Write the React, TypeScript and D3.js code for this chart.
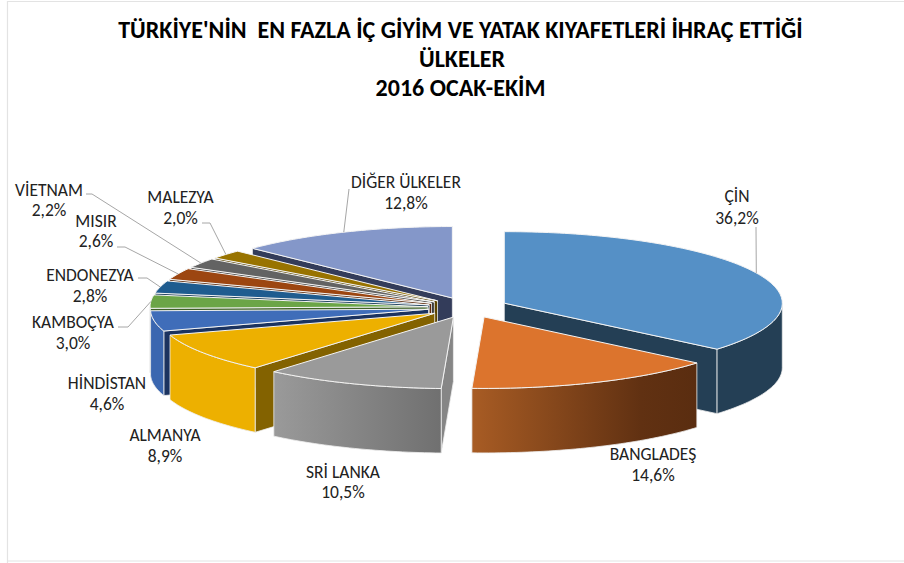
import React from "react";
import * as d3 from "d3";

const categories = ["ÇİN", "BANGLADEŞ", "SRİ LANKA", "ALMANYA", "HİNDİSTAN", "KAMBOÇYA", "ENDONEZYA", "MISIR", "VİETNAM", "MALEZYA", "DİĞER ÜLKELER"];
const shares = [36.2, 14.6, 10.5, 8.9, 4.6, 3.0, 2.8, 2.6, 2.2, 2.0, 12.8];
const titleLines = ["TÜRKİYE'NİN  EN FAZLA İÇ GİYİM VE YATAK KIYAFETLERİ İHRAÇ ETTİĞİ", "ÜLKELER", "2016 OCAK-EKİM"];

const topColors = ["#5590C6", "#DC742D", "#9A9A9A", "#EDB000", "#3F6DB9", "#6BA547", "#1F5C8F", "#9C4611", "#636363", "#987300", "#8497C9"];
const faceColors = ["#243F55", "#5C2E10", "#868686", "#836200", "#1B3360", "#3F6228", "#123654", "#5E2A0A", "#3C3C3C", "#5C4500", "#333C5A"];
const wallColors = ["#243F55", "url(#wallB)", "url(#wallS)", "#EDB000", "#3B67B0", "#5A8F3A", "#1F5C8F", "#9C4611", "#636363", "#987300", "#8497C9"];

// label layout: text centre x, first line y, second line y; optional leader elbow
const labelLayout: [number, number, number, number[] | null][] = [
  [737, 196, 218, [756, 227]],
  [653, 454, 475, null],
  [343, 472, 492, null],
  [165, 435, 456, null],
  [107, 383, 404, null],
  [73, 322, 343, [118, 327, 128, 327]],
  [90, 275, 296, [138, 278, 147, 278]],
  [96, 221, 241, [117, 247, 125, 247]],
  [49, 190, 210, [86, 194, 92, 194]],
  [180.5, 197, 218, [202, 223, 210, 223]],
  [406, 182, 203, [349, 189]],
];

const CX = 468, CY = 307.5, RX = 278, RY = 71.5, DEPTH = 64.5, EXPLODE = 0.144;
const FONT = "Carlito, Lato, sans-serif";

const pie = d3.pie<number>().sort(null).startAngle(0).endAngle(2 * Math.PI);
const arcs = pie(shares);

const line = d3.line<[number, number]>();
const rim = (ax: number, ay: number, t: number): [number, number] => [ax + RX * Math.sin(t), ay - RY * Math.cos(t)];
const sweep = (ax: number, ay: number, a: number, b: number, dy = 0): [number, number][] => {
  const n = Math.max(2, Math.ceil((b - a) / 0.02));
  return d3.range(n + 1).map(i => {
    const p = rim(ax, ay, a + ((b - a) * i) / n);
    return [p[0], p[1] + dy] as [number, number];
  });
};

const slices = arcs.map((arc, i) => {
  const mid = (arc.startAngle + arc.endAngle) / 2;
  const ax = CX + EXPLODE * RX * Math.sin(mid);
  const ay = CY - EXPLODE * RY * Math.cos(mid);
  return { i, a: arc.startAngle, b: arc.endAngle, mid, ax, ay };
});

// painter's order: back slices first
const order = [10, 9, 8, 7, 6, 5, 4, 3, 2, 0, 1];

export default function App() {
  return (
    <svg width={904} height={563} style={{ position: "absolute", left: 0, top: 0, display: "block", background: "#fff" }}>
      <defs>
        <linearGradient id="wallB" x1="0" x2="1" y1="0" y2="0">
          <stop offset="0" stopColor="#A85C24" />
          <stop offset="0.75" stopColor="#613112" />
          <stop offset="1" stopColor="#5A2D10" />
        </linearGradient>
        <linearGradient id="wallS" x1="0" x2="1" y1="0" y2="0">
          <stop offset="0" stopColor="#9A9A9A" />
          <stop offset="1" stopColor="#707070" />
        </linearGradient>
      </defs>
      <path d="M7.5 563V1.5H904M7.5 561H904" fill="none" stroke="#e3e3e3" strokeWidth={1.2} />

      {titleLines.map((t, i) => (
        <text key={i} x={i === 1 ? 462 : 460.5} y={[29, 58, 87][i]} textAnchor="middle" dominantBaseline="central"
          fontFamily={FONT} fontWeight={700} fontSize={24} fill="#000" style={{ whiteSpace: "pre" }}>{t}</text>
      ))}

      {order.map(k => {
        const s = slices[k];
        const faces: React.ReactNode[] = [];
        const facePath = (t: number) => {
          const p = rim(s.ax, s.ay, t);
          return line([[s.ax, s.ay], p, [p[0], p[1] + DEPTH], [s.ax, s.ay + DEPTH]]) + "Z";
        };
        if (Math.sin(s.a) < -1e-3) faces.push(<path key="fs" d={facePath(s.a)} fill={faceColors[k]} stroke="#eee" strokeWidth={0.8} />);
        if (Math.sin(s.b) > 1e-3) faces.push(<path key="fe" d={facePath(s.b)} fill={faceColors[k]} stroke="#eee" strokeWidth={0.8} />);
        const wa = Math.max(s.a, Math.PI / 2), wb = Math.min(s.b, (3 * Math.PI) / 2);
        let wall: React.ReactNode = null;
        if (wb > wa) {
          const pts = [...sweep(s.ax, s.ay, wa, wb), ...sweep(s.ax, s.ay, wa, wb, DEPTH).reverse()];
          wall = <path d={line(pts) + "Z"} fill={wallColors[k]} stroke="#eee" strokeWidth={0.8} />;
        }
        const top = [[s.ax, s.ay] as [number, number], ...sweep(s.ax, s.ay, s.a, s.b)];
        return (
          <g key={k}>
            {faces}
            {wall}
            <path d={line(top) + "Z"} fill={topColors[k]} stroke="#f4f4f4" strokeWidth={1} strokeLinejoin="round" />
          </g>
        );
      })}

      {slices.map(s => {
        const l = labelLayout[s.i];
        const elbow = l[3];
        if (!elbow) return null;
        const end = rim(s.ax, s.ay, s.mid);
        const pts: [number, number][] = [];
        for (let j = 0; j < elbow.length; j += 2) pts.push([elbow[j], elbow[j + 1]]);
        pts.push(end);
        return <path key={s.i} d={line(pts)!} fill="none" stroke="#a6a6a6" strokeWidth={1} />;
      })}

      {slices.map(s => {
        const l = labelLayout[s.i];
        return (
          <g key={s.i} fontFamily={FONT} fontSize={17.5} fill="#222" textAnchor="middle" dominantBaseline="central">
            <text x={l[0]} y={l[1]}>{categories[s.i]}</text>
            <text x={l[0]} y={l[2]}>{shares[s.i].toFixed(1).replace(".", ",")}%</text>
          </g>
        );
      })}
    </svg>
  );
}
